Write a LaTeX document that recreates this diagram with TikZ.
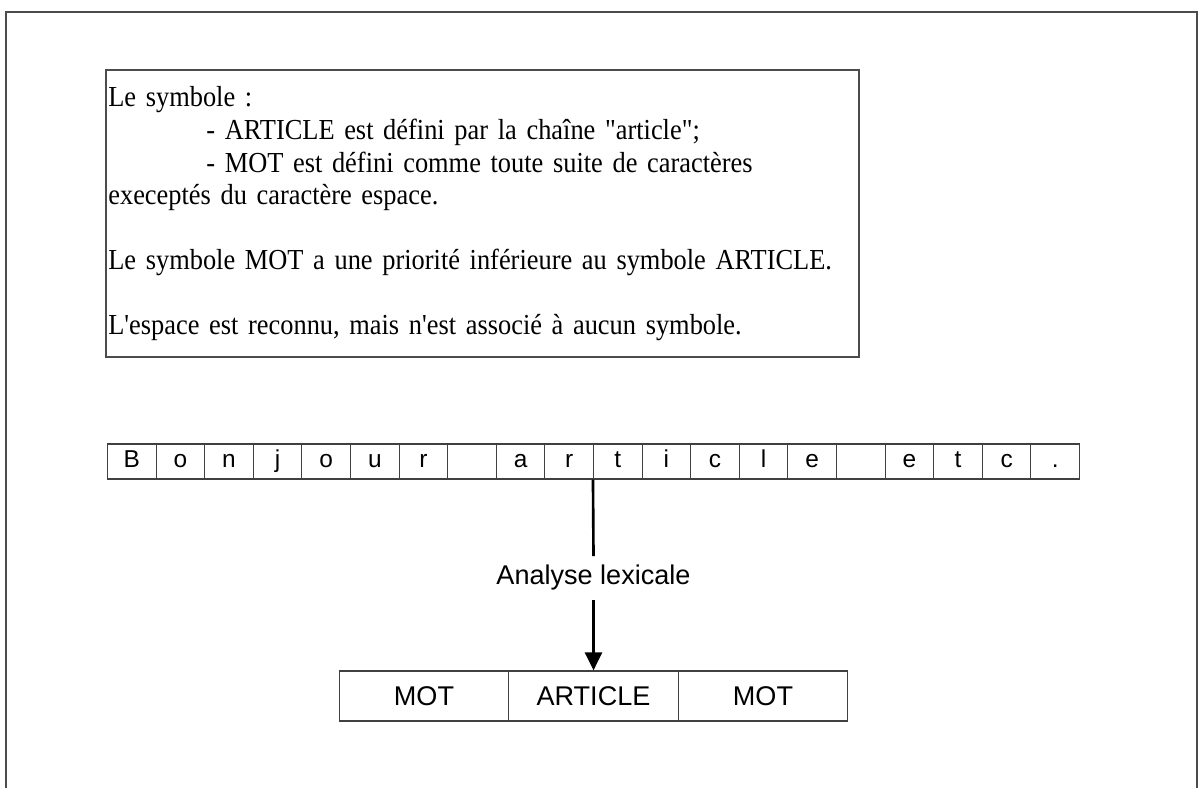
\documentclass[tikz,border=0pt]{standalone}
\usepackage{fontspec}
\newfontfamily\serifreg[FakeStretch=0.91]{Liberation Serif}
\newfontfamily\sansreg{Liberation Sans}
\usetikzlibrary{arrows.meta}

\begin{document}
\begin{tikzpicture}[
  cadre/.style={draw=black!70, line width=0.8pt},
  lettre/.style={draw=black!75, line width=0.6pt, minimum width=0.972cm, minimum height=0.70cm, inner sep=0pt, text height=0.34cm, text depth=0.1cm, font=\sansreg\fontsize{13.9}{16}\selectfont},
  jeton/.style={draw=black!75, line width=0.7pt, minimum width=3.39cm, minimum height=1.0cm, inner sep=0pt, text height=0.39cm, text depth=0cm, font=\sansreg\fontsize{15.4}{18}\selectfont},
  trait/.style={line width=1.5pt, black}
]
\useasboundingbox (0,0) rectangle (24.02,15.76);
\draw [cadre] (0.12,0) -- (0.12,15.52) -- (23.94,15.52) -- (23.94,0);

\node [cadre, minimum width=15.06cm, minimum height=5.74cm, inner sep=0pt] (regles) at (9.65,11.49) {};
\node [anchor=base west, inner sep=0pt, text width=14.8cm, align=left, font=\serifreg\fontsize{16.5}{18.5}\selectfont] (texte) at (2.16,13.62) {Le symbole :\\
\hspace*{1.96cm}- ARTICLE est défini par la chaîne "article";\\
\hspace*{1.96cm}- MOT est défini comme toute suite de caractères\\
execeptés du caractère espace.\\[18.5pt]
Le symbole MOT a une priorité inférieure au symbole ARTICLE.\\[18.5pt]
L'espace est reconnu, mais n'est associé à aucun symbole.};

\node [lettre] (ch1) at (2.636,6.53) {B};
\node [lettre] (ch2) at (3.608,6.53) {o};
\node [lettre] (ch3) at (4.580,6.53) {n};
\node [lettre] (ch4) at (5.552,6.53) {j};
\node [lettre] (ch5) at (6.524,6.53) {o};
\node [lettre] (ch6) at (7.496,6.53) {u};
\node [lettre] (ch7) at (8.468,6.53) {r};
\node [lettre] (ch8) at (9.440,6.53) {};
\node [lettre] (ch9) at (10.412,6.53) {a};
\node [lettre] (ch10) at (11.384,6.53) {r};
\node [lettre] (ch11) at (12.356,6.53) {t};
\node [lettre] (ch12) at (13.328,6.53) {i};
\node [lettre] (ch13) at (14.300,6.53) {c};
\node [lettre] (ch14) at (15.272,6.53) {l};
\node [lettre] (ch15) at (16.244,6.53) {e};
\node [lettre] (ch16) at (17.216,6.53) {};
\node [lettre] (ch17) at (18.188,6.53) {e};
\node [lettre] (ch18) at (19.160,6.53) {t};
\node [lettre] (ch19) at (20.132,6.53) {c};
\node [lettre] (ch20) at (21.104,6.53) {.};

\node [inner sep=0.18cm, font=\sansreg\fontsize{15.4}{18}\selectfont] (analyse) at (11.87,4.2) {Analyse lexicale};

\node [jeton] (mot1) at (8.48,1.84) {MOT};
\node [jeton] (article) at (11.87,1.84) {ARTICLE};
\node [jeton] (mot2) at (15.26,1.84) {MOT};

\draw [trait] (ch11.south west) -- (analyse.north);
\draw [trait, -{Triangle[width=0.34cm,length=0.36cm]}] (analyse.south) -- (article.north);
\end{tikzpicture}
\end{document}
